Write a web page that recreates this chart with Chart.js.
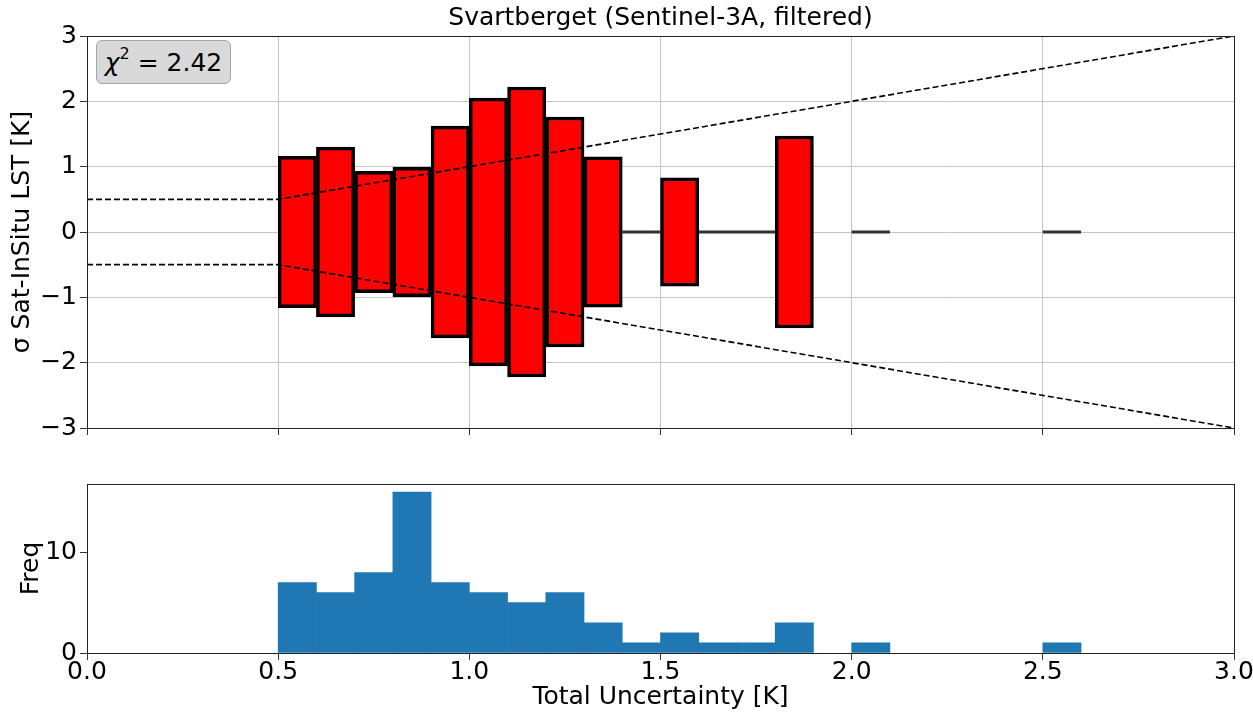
<!DOCTYPE html>
<html>
<head>
<meta charset="utf-8">
<script src="https://cdn.jsdelivr.net/npm/chart.js@4.4.1/dist/chart.umd.min.js"></script>
<style>
  html, body { margin: 0; padding: 0; background: #fff; }
  #wrap { position: relative; width: 1253px; height: 717px; background: #fff; overflow: hidden; }
  #top { position: absolute; left: 0; top: 0; }
  #bot { position: absolute; left: 0; top: 440px; }
  #chi { position: absolute; left: 96px; top: 40px; width: 133px; height: 42px;
         background: #d9d9d9; border: 1px solid #a6a6a6; border-radius: 6px;
         font-family: 'DejaVu Sans', sans-serif; font-size: 25px; color: #000;
         display: flex; align-items: center; justify-content: center; line-height: 1; }
  #chi i { font-style: italic; }
  #chi sup { font-size: 16px; position: relative; top: -3px; }
</style>
</head>
<body>
<div id="wrap">
  <canvas id="top" width="1253" height="440"></canvas>
  <canvas id="bot" width="1253" height="277"></canvas>
  <div id="chi"><span><i>χ</i><sup>2</sup> = 2.42</span></div>
</div>
<script>
// ---- data ----
const binCenters = [0.55, 0.65, 0.75, 0.85, 0.95, 1.05, 1.15, 1.25, 1.35, 1.45, 1.55, 1.65, 1.75, 1.85, 2.05, 2.55];
const binWidth = 0.1;
const sigmaValues = [1.16, 1.30, 0.93, 0.99, 1.62, 2.05, 2.22, 1.76, 1.15, 0, 0.83, 0, 0, 1.47, 0, 0];
const freqValues = [7, 6, 8, 16, 7, 6, 5, 6, 3, 1, 2, 1, 1, 3, 1, 1];
const refLineX = [0, 0.5, 3];
const refLineY = [0.5, 0.5, 3];
const xTickLabels = ['0.0', '0.5', '1.0', '1.5', '2.0', '2.5', '3.0'];
const sigmaTicks = [-3, -2, -1, 0, 1, 2, 3];
const freqTicks = [0, 10];
const chi2 = 2.42;

const FONT = "'DejaVu Sans', sans-serif";
Chart.defaults.font.family = FONT;
Chart.defaults.color = '#000';
const TICKFONT = { size: 25, lineHeight: 1 };
const LABELFONT = { size: 25, lineHeight: 1.2 };

const frame = {
  id: 'frame',
  afterDatasetsDraw(chart) {
    const a = chart.chartArea, c = chart.ctx;
    c.save();
    c.strokeStyle = '#222';
    c.lineWidth = 1;
    c.strokeRect(Math.round(a.left) + 0.5, Math.round(a.top) + 0.5, Math.round(a.right - a.left), Math.round(a.bottom - a.top));
    c.restore();
  }
};

function fixSize(w, h) {
  return function (s) {
    if (w !== null) s.width = w;
    if (h !== null) s.height = h;
    s.paddingLeft = 0; s.paddingRight = 0; s.paddingTop = 0; s.paddingBottom = 0;
  };
}
const minus = v => (v < 0 ? '\u2212' + Math.abs(v) : String(v));

// ---- top panel ----
const barData = [];
const zeroLine = [];
binCenters.forEach((c, i) => {
  const s = sigmaValues[i];
  if (s > 0) barData.push({ x: c, y: [-s, s] });
  else { zeroLine.push({ x: c - binWidth / 2, y: 0 }, { x: c + binWidth / 2, y: 0 }, { x: c, y: null }); }
});
const upper = refLineX.map((x, i) => ({ x, y: refLineY[i] }));
const lower = refLineX.map((x, i) => ({ x, y: -refLineY[i] }));

new Chart(document.getElementById('top'), {
  type: 'bar',
  data: {
    datasets: [
      { type: 'bar', data: barData, backgroundColor: '#ff0000', borderColor: '#000', borderWidth: 3.5,
        borderSkipped: false, barPercentage: 1, categoryPercentage: 1, order: 2 },
      { type: 'line', data: zeroLine, borderColor: '#333', borderWidth: 3, pointRadius: 0, spanGaps: false, order: 3 },
      { type: 'line', data: upper, borderColor: '#000', borderWidth: 1.6, borderDash: [6, 3], pointRadius: 0, order: 1 },
      { type: 'line', data: lower, borderColor: '#000', borderWidth: 1.6, borderDash: [6, 3], pointRadius: 0, order: 1 }
    ]
  },
  options: {
    responsive: false, animation: false,
    layout: { padding: { left: 0, right: 19, top: 0, bottom: 0 } },
    plugins: {
      legend: { display: false }, tooltip: { enabled: false },
      title: { display: true, fullSize: false, text: 'Svartberget (Sentinel-3A, filtered)',
               font: { size: 25, weight: 'normal', lineHeight: 1.2 },
               color: '#000', padding: { top: 3, bottom: 3 } }
    },
    scales: {
      x: { type: 'linear', min: 0, max: 3, offset: false,
           ticks: { display: false, stepSize: 0.5 },
           grid: { color: '#c4c4c4', lineWidth: 1, tickLength: 7, tickColor: '#333', offset: false },
           border: { color: '#222' },
           afterFit: fixSize(null, 12) },
      y: { type: 'linear', min: -3, max: 3,
           afterBuildTicks: s => { s.ticks = sigmaTicks.map(v => ({ value: v })); },
           ticks: { font: TICKFONT, padding: 3, callback: v => minus(v) },
           grid: { color: '#c4c4c4', lineWidth: 1, tickLength: 7, tickColor: '#333' },
           border: { color: '#222' },
           title: { display: true, text: 'σ Sat-InSitu LST [K]', font: LABELFONT, padding: { top: 7, bottom: 0 } },
           afterFit: fixSize(87, null) }
    }
  },
  plugins: [frame]
});

// ---- bottom panel ----
const histData = binCenters.map((c, i) => ({ x: c, y: freqValues[i] }));
new Chart(document.getElementById('bot'), {
  type: 'bar',
  data: {
    datasets: [
      { data: histData, backgroundColor: '#1f77b4', borderWidth: 0, barPercentage: 1, categoryPercentage: 1 }
    ]
  },
  options: {
    responsive: false, animation: false,
    layout: { padding: { left: 0, right: 19, top: 44, bottom: 0 } },
    plugins: { legend: { display: false }, tooltip: { enabled: false } },
    scales: {
      x: { type: 'linear', min: 0, max: 3, offset: false,
           afterBuildTicks: s => { s.ticks = xTickLabels.map(t => ({ value: parseFloat(t) })); },
           ticks: { font: TICKFONT, padding: 0, maxRotation: 0, autoSkip: false,
                    callback: (v, i) => xTickLabels[i] },
           grid: { display: true, drawOnChartArea: false, tickLength: 7, tickColor: '#333', offset: false },
           border: { color: '#222' },
           title: { display: true, text: 'Total Uncertainty [K]', font: LABELFONT, padding: { top: 0, bottom: 5 } },
           afterFit: fixSize(null, 64) },
      y: { type: 'linear', min: 0, max: 16.8,
           afterBuildTicks: s => { s.ticks = freqTicks.map(v => ({ value: v })); },
           ticks: { font: TICKFONT, padding: 3 },
           grid: { display: true, drawOnChartArea: false, tickLength: 7, tickColor: '#333' },
           border: { color: '#222' },
           title: { display: true, text: 'Freq', font: LABELFONT, padding: { top: 16, bottom: 0 } },
           afterFit: fixSize(87, null) }
    }
  },
  plugins: [frame]
});
</script>
</body>
</html>
